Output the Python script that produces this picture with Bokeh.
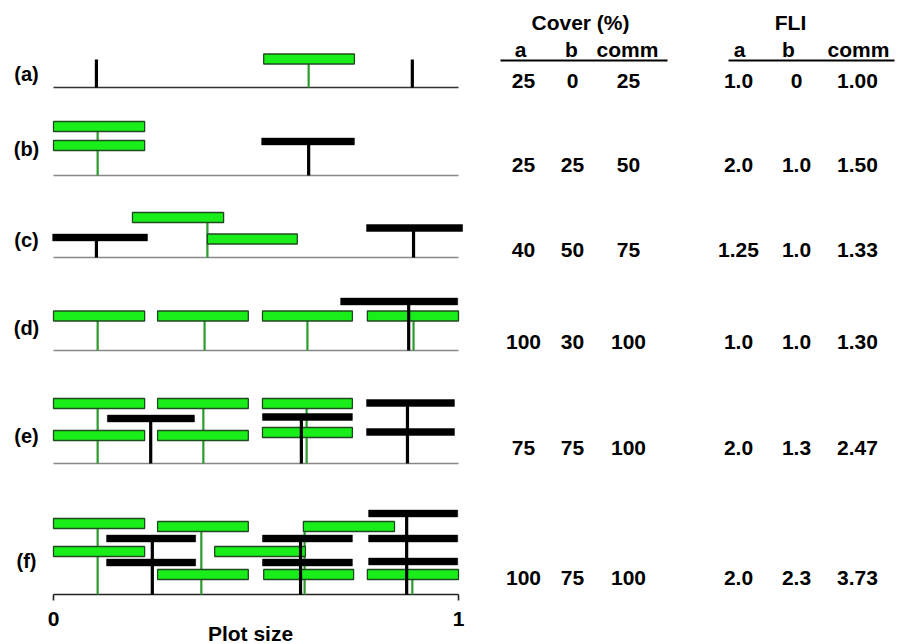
from bokeh.plotting import figure
from bokeh.models import Range1d, ColumnDataSource
from bokeh.core.properties import value
from bokeh.embed import file_html
from bokeh.resources import INLINE

# ---------------- data ----------------
row_labels = ["(a)", "(b)", "(c)", "(d)", "(e)", "(f)"]
cover_a = ["25", "25", "40", "100", "75", "100"]
cover_b = ["0", "25", "50", "30", "75", "75"]
cover_comm = ["25", "50", "75", "100", "100", "100"]
fli_a = ["1.0", "2.0", "1.25", "1.0", "2.0", "2.0"]
fli_b = ["0", "1.0", "1.0", "1.0", "1.3", "2.3"]
fli_comm = ["1.00", "1.50", "1.33", "1.30", "2.47", "3.73"]
sub_headers = ["a", "b", "comm"]
axis_ticks = [0, 1]

# stems (one per plant): row, species, position on plot, height
stem_row = [0, 0, 0, 1, 1, 2, 2, 2, 3, 3, 3, 3, 3,
            4, 4, 4, 4, 4, 4, 5, 5, 5, 5, 5, 5, 5]
stem_sp = ["b", "b", "a", "a", "b", "b", "a", "b", "a", "a", "a", "a", "b",
           "a", "a", "a", "b", "b", "b", "a", "a", "a", "a", "b", "b", "b"]
stem_x = [0.106, 0.886, 0.630, 0.109, 0.630, 0.106, 0.380, 0.889,
          0.109, 0.373, 0.627, 0.889, 0.877,
          0.109, 0.370, 0.625, 0.240, 0.612, 0.874,
          0.109, 0.365, 0.620, 0.886, 0.244, 0.610, 0.872]
stem_h = [28, 28, 28.5, 49, 34, 20, 40, 29.5,
          34.5, 34.5, 34.5, 34.5, 49,
          60, 60, 60, 45, 46.5, 60.5,
          71, 68, 68, 20, 56, 56, 81]

# canopy layers: row, species, left, right, height
layer_row = [0, 1, 1, 1, 2, 2, 2, 2, 3, 3, 3, 3, 3,
             4, 4, 4, 4, 4, 4, 4, 4, 4, 4,
             5, 5, 5, 5, 5, 5, 5, 5, 5, 5, 5, 5, 5, 5, 5]
layer_sp = ["a", "a", "a", "b", "b", "a", "a", "b", "a", "a", "a", "a", "b",
            "a", "a", "a", "a", "a", "a", "b", "b", "b", "b",
            "a", "a", "a", "a", "a", "a", "a", "a", "b", "b", "b", "b", "b", "b", "b"]
layer_left = [0.519, 0.0, 0.0, 0.514, -0.002, 0.195, 0.380, 0.773,
              0.0, 0.257, 0.516, 0.775, 0.709,
              0.0, 0.0, 0.257, 0.257, 0.516, 0.516, 0.133, 0.516, 0.773, 0.773,
              0.0, 0.0, 0.257, 0.257, 0.617, 0.398, 0.519, 0.775,
              0.131, 0.131, 0.516, 0.516, 0.778, 0.778, 0.778]
layer_right = [0.743, 0.225, 0.225, 0.743, 0.232, 0.420, 0.602, 1.010,
               0.225, 0.481, 0.738, 1.0, 0.998,
               0.225, 0.225, 0.481, 0.481, 0.738, 0.738, 0.348, 0.738, 0.990, 0.990,
               0.225, 0.225, 0.481, 0.481, 0.842, 0.622, 0.741, 1.0,
               0.351, 0.351, 0.738, 0.738, 0.998, 0.998, 0.998]
layer_h = [28.5, 49, 30, 34, 20, 40, 18.5, 29.5,
           34.5, 34.5, 34.5, 34.5, 49,
           60, 28, 60, 28, 60, 31, 45, 46.5, 60.5, 31.5,
           71, 43, 68, 20, 68, 43, 20, 20,
           56, 32, 56, 32, 81, 56, 33]

# ---------------- layout ----------------
W, H = 902, 644
X0_PAGE, X1_PAGE = 53, 458          # picture pixels of plot size 0 and 1
UNIT = X1_PAGE - X0_PAGE


def px(page_x):
    return (page_x - X0_PAGE) / UNIT


def py(page_y):
    return H - page_y


row_base = [py(v) for v in [87, 175, 257, 350, 463, 594]]
row_label_y = [py(v) for v in [73, 148, 239, 327, 435, 560]]
row_value_y = [py(v) for v in [80, 164, 249, 341, 447, 577]]

FONT = value("Liberation Sans")
GREEN_FILL = "#1aee1a"
GREEN_LINE = "#1f4a1f"
GREEN_STEM = "#2c9a2c"

p = figure(width=W, height=H, output_backend="svg", toolbar_location=None,
           x_range=Range1d(px(0), px(W)), y_range=Range1d(0, H),
           x_axis_location=None, y_axis_location=None, min_border=0)
p.outline_line_color = None
p.grid.visible = False
p.background_fill_color = "white"

# baselines of rows (a)-(e)
base_cols = ["#333333", "#888888", "#888888", "#888888", "#888888"]
p.segment(x0=[0] * 5, x1=[1] * 5, y0=row_base[:5], y1=row_base[:5],
          line_color=base_cols, line_width=1.6)

# axis for row (f)
p.segment(x0=[0], x1=[1], y0=[row_base[5]], y1=[row_base[5]],
          line_color="#222222", line_width=1.6)
p.segment(x0=axis_ticks, x1=axis_ticks, y0=[row_base[5]] * 2,
          y1=[row_base[5] - 6] * 2, line_color="#222222", line_width=1.6)
p.text(x=axis_ticks, y=[py(618)] * 2, text=[str(t) for t in axis_ticks],
       text_font=FONT, text_font_style="bold", text_font_size="21px",
       text_align="center", text_baseline="middle", text_color="black")
p.text(x=[px(250)], y=[py(633)], text=["Plot size"],
       text_font=FONT, text_font_style="bold", text_font_size="21px",
       text_align="center", text_baseline="middle", text_color="black")


def split(species):
    s_idx = [i for i, s in enumerate(stem_sp) if s == species]
    l_idx = [i for i, s in enumerate(layer_sp) if s == species]
    stems = ColumnDataSource(dict(
        x=[stem_x[i] for i in s_idx],
        y0=[row_base[stem_row[i]] for i in s_idx],
        y1=[row_base[stem_row[i]] + stem_h[i] for i in s_idx]))
    layers = ColumnDataSource(dict(
        left=[layer_left[i] for i in l_idx],
        right=[layer_right[i] for i in l_idx],
        yc=[row_base[layer_row[i]] + layer_h[i] for i in l_idx]))
    return stems, layers


ga_stems, ga_layers = split("a")
bb_stems, bb_layers = split("b")

# species a (green)
p.segment(x0="x", x1="x", y0="y0", y1="y1", source=ga_stems,
          line_color=GREEN_STEM, line_width=2.2)
ga_layers.data["top"] = [v + 5 for v in ga_layers.data["yc"]]
ga_layers.data["bottom"] = [v - 5 for v in ga_layers.data["yc"]]
p.quad(left="left", right="right", top="top", bottom="bottom", source=ga_layers,
       fill_color=GREEN_FILL, line_color=GREEN_LINE, line_width=1.3)

# species b (black)
p.segment(x0="x", x1="x", y0="y0", y1="y1", source=bb_stems,
          line_color="black", line_width=3.2)
bb_layers.data["top"] = [v + 3.4 for v in bb_layers.data["yc"]]
bb_layers.data["bottom"] = [v - 3.4 for v in bb_layers.data["yc"]]
p.quad(left="left", right="right", top="top", bottom="bottom", source=bb_layers,
       fill_color="black", line_color="black", line_width=0.5)

# row labels
p.text(x=[px(26)] * 6, y=row_label_y, text=row_labels,
       text_font=FONT, text_font_style="bold", text_font_size="20px",
       text_align="center", text_baseline="middle", text_color="black")

# table
hdr_style = dict(text_font=FONT, text_font_style="bold", text_font_size="21px",
                 text_align="center", text_baseline="middle", text_color="black")
p.text(x=[px(580), px(790)], y=[py(22)] * 2, text=["Cover (%)", "FLI"], **hdr_style)
p.text(x=[px(v) for v in [520, 571, 627, 739, 788, 858]], y=[py(49)] * 6,
       text=sub_headers * 2, **hdr_style)
p.segment(x0=[px(500), px(728)], x1=[px(667), px(894)], y0=[py(60)] * 2,
          y1=[py(60)] * 2, line_color="black", line_width=2)

col_x = [px(v) for v in [523, 572, 628, 738, 796, 857]]
for cx, col in zip(col_x, [cover_a, cover_b, cover_comm, fli_a, fli_b, fli_comm]):
    p.text(x=[cx] * 6, y=row_value_y, text=col, **hdr_style)

open("out.html", "w").write(file_html(p, INLINE))
